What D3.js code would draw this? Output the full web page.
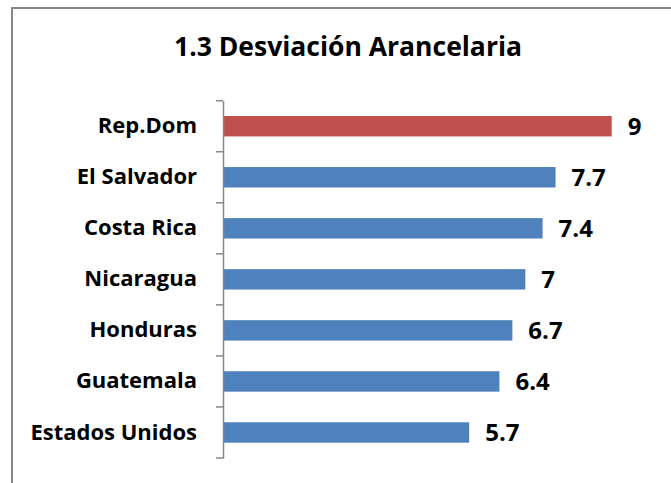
<!DOCTYPE html>
<html>
<head>
<meta charset="utf-8">
<script src="https://cdn.jsdelivr.net/npm/d3@7"></script>
<style>
  body { margin: 0; background: #fff; }
  text { font-family: "Open Sans", Lato, sans-serif; font-weight: bold; fill: #000; }
</style>
</head>
<body>
<div id="chart"></div>
<script>
// chart data
let categories = ["Rep.Dom", "El Salvador", "Costa Rica", "Nicaragua", "Honduras", "Guatemala", "Estados Unidos"];
let values = [9, 7.7, 7.4, 7, 6.7, 6.4, 5.7];
let barColors = ["#C0504D", "#4F81BD", "#4F81BD", "#4F81BD", "#4F81BD", "#4F81BD", "#4F81BD"];
let title = "1.3 Desviación Arancelaria";

let width = 671, height = 483;
let margin = {top: 100, left: 223, bottom: 25};

let svg = d3.select("#chart").append("svg")
    .attr("width", width)
    .attr("height", height);

//Outer frame
svg.append("rect")
    .attr("x", 12)
    .attr("y", 8)
    .attr("width", 700)
    .attr("height", 520)
    .attr("fill", "none")
    .attr("stroke", "#868686")
    .attr("stroke-width", 2);

svg.append("text")
    .attr("x", 348)
    .attr("y", 56)
    .attr("text-anchor", "middle")
    .style("font-size", "26.5px")
    .text(title);

let x = d3.scaleLinear().domain([0, 9]).range([margin.left, 611.7]);
let y = d3.scaleBand().domain(categories)
    .range([margin.top + 0.7, height - margin.bottom])
    .paddingInner(0.6).paddingOuter(0.3);

//Bars
svg.selectAll(".bar").data(categories).enter().append("rect")
    .attr("class", "bar")
    .attr("x", x(0))
    .attr("y", d => y(d))
    .attr("width", (d, i) => x(values[i]) - x(0))
    .attr("height", y.bandwidth())
    .attr("fill", (d, i) => barColors[i]);

//Value labels
svg.selectAll(".val").data(categories).enter().append("text")
    .attr("class", "val")
    .attr("x", (d, i) => x(values[i]) + 16)
    .attr("y", d => y(d) + y.bandwidth() / 2)
    .attr("dy", "0.36em")
    .style("font-size", "24px")
    .text((d, i) => values[i]);

//Category axis
let axis = d3.axisLeft(y).tickSize(0).tickPadding(26);
let gAxis = svg.append("g")
    .attr("transform", "translate(" + x(0) + ",0)")
    .call(axis);
gAxis.select(".domain").attr("stroke", "#868686").attr("stroke-width", 1.5);
gAxis.selectAll("text")
    .style("font-size", "22px")
    .style("font-family", "'Open Sans', sans-serif");

//Boundary tick marks between categories
let step = y.step();
let bounds = d3.range(categories.length + 1).map(i => y.range()[0] + i * step);
gAxis.selectAll(".bound").data(bounds).enter().append("line")
    .attr("class", "bound")
    .attr("x1", -7).attr("x2", 0)
    .attr("y1", d => d).attr("y2", d => d)
    .attr("stroke", "#868686")
    .attr("stroke-width", 1.5);
</script>
</body>
</html>
